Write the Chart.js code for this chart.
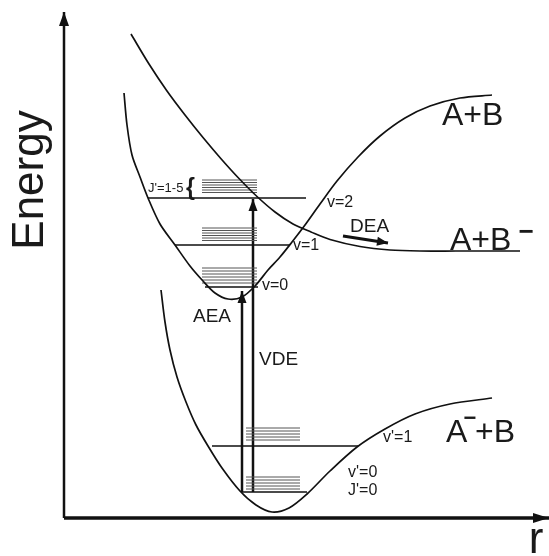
<!DOCTYPE html>
<html><head><meta charset="utf-8">
<script src="https://cdn.jsdelivr.net/npm/chart.js@4.4.1/dist/chart.umd.min.js"></script>
<style>html,body{margin:0;padding:0;background:#fff}#wrap{width:549px;height:556px;position:relative}</style>
</head><body><div id="wrap"><canvas id="c"></canvas></div>
<script>
// ---- data (r, Energy) in schematic units ----
const neutralCurve = [[60,425],[63,393],[68,363],[76,341],[84,320],[96,294],[111,273],[126,252],[139,237],[151,225],[164,219],[178,221],[191,232],[204,248],[216,261],[228,276],[241,293],[256,314],[273,337],[294,361],[316,382],[341,400],[366,412],[396,420],[428,423]];
const anionRepulsiveCurve = [[67,484],[85,454],[103,427],[121,403],[139,380.5],[157,359.3],[175,339.5],[193,321.5],[211,306],[229,294],[247,286],[266,278.5],[296,271.5],[326,268],[356,267],[392,267],[456,267]];
const anionGroundCurve = [[97,228],[101,196],[106,168],[113,141],[122,116],[132,93],[144,72],[158,50],[176,27],[192,13],[208,6],[225,10],[243,24],[266,47],[293,71],[321,89],[351,104],[386,114],[428,120]];
const vibLevelE = [320, 273, 231];
const vibLevelR = [[84,242],[111,226],[141,194]];
const anionLevelE = [72, 26];
const anionLevelR = [[148,294],[178,243]];
const rotGroupsUpperE = [[338,335.5,333,330.5,328,325.5],[290,287.5,285,282.5,280,277.5],[250,247,244,241,238,235]];
const rotUpperR = [138,193];
const rotGroupsLowerE = [[90,87,84,81,78],[41,38,35,32,29]];
const rotLowerR = [182,236];
const aeaArrow = [[178,26],[178,227]];
const vdeArrow = [[189,26],[189,319]];
const deaArrow = [[279,282],[324,275]];
const energyAxis = [[0,0],[0,506]];
const rAxis = [[0,0],[485,0]];

const FONT = "'Liberation Sans', Arial, Helvetica, sans-serif";
const labels = [
  {t:'A+B', r:378, E:393, size:32},
  {t:'A+B', r:386, E:268, size:32},
  {t:'\u2212', r:462, E:278, size:26, bold:true, align:'center'},
  {t:'A', r:382, E:76, size:32},
  {t:'\u2212', r:406, E:93, size:22, bold:true, align:'center'},
  {t:'+B', r:411, E:76, size:32},
  {t:'Energy', r:-21, E:338, size:44, rot:-Math.PI/2, align:'center'},
  {t:'r', r:472, E:-35, size:44, align:'center'},
  {t:'v=2', r:263, E:311, size:16},
  {t:'v=1', r:229, E:268, size:16},
  {t:'v=0', r:198, E:228, size:16},
  {t:"v'=1", r:319, E:76, size:16},
  {t:"v'=0", r:284, E:41, size:16},
  {t:"J'=0", r:284, E:23, size:16},
  {t:'AEA', r:129, E:196, size:19},
  {t:'VDE', r:195, E:153, size:19},
  {t:'DEA', r:286, E:286, size:19},
  {t:"J'=1-5", r:84, E:326, size:13},
  {t:'{', r:122, E:323, size:23, bold:true}
];

const P = a => a.map(([x,y]) => ({x, y}));
function segments(Es, R) {
  const out = [];
  Es.forEach(e => { out.push({x:R[0], y:e}, {x:R[1], y:e}, {x:R[1], y:null}); });
  return out;
}
function segmentsR(Es, Rs) {
  const out = [];
  Es.forEach((e,i) => { out.push({x:Rs[i][0], y:e}, {x:Rs[i][1], y:e}, {x:Rs[i][1], y:null}); });
  return out;
}
const base = {showLine:true, pointRadius:0, borderColor:'#111', backgroundColor:'#111', clip:false, tension:0, spanGaps:false};
const datasets = [
  {...base, data:P(neutralCurve), borderWidth:1.7, tension:0.3},
  {...base, data:P(anionRepulsiveCurve), borderWidth:1.7, tension:0.3},
  {...base, data:P(anionGroundCurve), borderWidth:1.7, tension:0.3},
  {...base, data:segmentsR(vibLevelE, vibLevelR), borderWidth:1.5},
  {...base, data:segmentsR(anionLevelE, anionLevelR), borderWidth:1.5},
  {...base, data:[].concat(...rotGroupsUpperE.map(g => segments(g, rotUpperR))), borderWidth:1, borderColor:'#555'},
  {...base, data:[].concat(...rotGroupsLowerE.map(g => segments(g, rotLowerR))), borderWidth:1, borderColor:'#555'},
  {...base, data:P(aeaArrow), borderWidth:2.5, arrow:{len:12, half:4.5}},
  {...base, data:P(vdeArrow), borderWidth:2.5, arrow:{len:12, half:4.5}},
  {...base, data:P(deaArrow), borderWidth:3, arrow:{len:11, half:4.5}},
  {...base, data:P(energyAxis), borderWidth:2.5, arrow:{len:14, half:5}},
  {...base, data:P(rAxis), borderWidth:3.5, arrow:{len:16, half:5}}
];

const arrowPlugin = {
  id:'arrows',
  afterDatasetsDraw(chart) {
    const ctx = chart.ctx;
    chart.data.datasets.forEach((ds, i) => {
      if (!ds.arrow) return;
      const pts = chart.getDatasetMeta(i).data;
      const a = pts[pts.length-2], b = pts[pts.length-1];
      const ang = Math.atan2(b.y - a.y, b.x - a.x);
      const {len, half} = ds.arrow;
      ctx.save();
      ctx.translate(b.x, b.y); ctx.rotate(ang);
      ctx.fillStyle = ds.borderColor;
      ctx.beginPath(); ctx.moveTo(0,0); ctx.lineTo(-len, -half); ctx.lineTo(-len, half); ctx.closePath(); ctx.fill();
      ctx.restore();
    });
  }
};
const labelPlugin = {
  id:'labels',
  afterDatasetsDraw(chart) {
    const ctx = chart.ctx, xs = chart.scales.x, ys = chart.scales.y;
    labels.forEach(l => {
      ctx.save();
      ctx.translate(xs.getPixelForValue(l.r), ys.getPixelForValue(l.E));
      if (l.rot) ctx.rotate(l.rot);
      ctx.font = (l.bold ? 'bold ' : '') + l.size + 'px ' + FONT;
      ctx.fillStyle = '#1a1a1a';
      ctx.textAlign = l.align || 'left';
      ctx.textBaseline = 'alphabetic';
      ctx.fillText(l.t, 0, 0);
      ctx.restore();
    });
  }
};

new Chart(document.getElementById('c'), {
  type:'scatter',
  data:{datasets},
  options:{
    responsive:true, maintainAspectRatio:false, animation:false, events:[],
    layout:{padding:0},
    plugins:{legend:{display:false}, tooltip:{enabled:false}},
    scales:{
      x:{type:'linear', display:false, min:-64, max:485},
      y:{type:'linear', display:false, min:-38, max:518}
    }
  },
  plugins:[arrowPlugin, labelPlugin]
});
</script>
</body></html>
